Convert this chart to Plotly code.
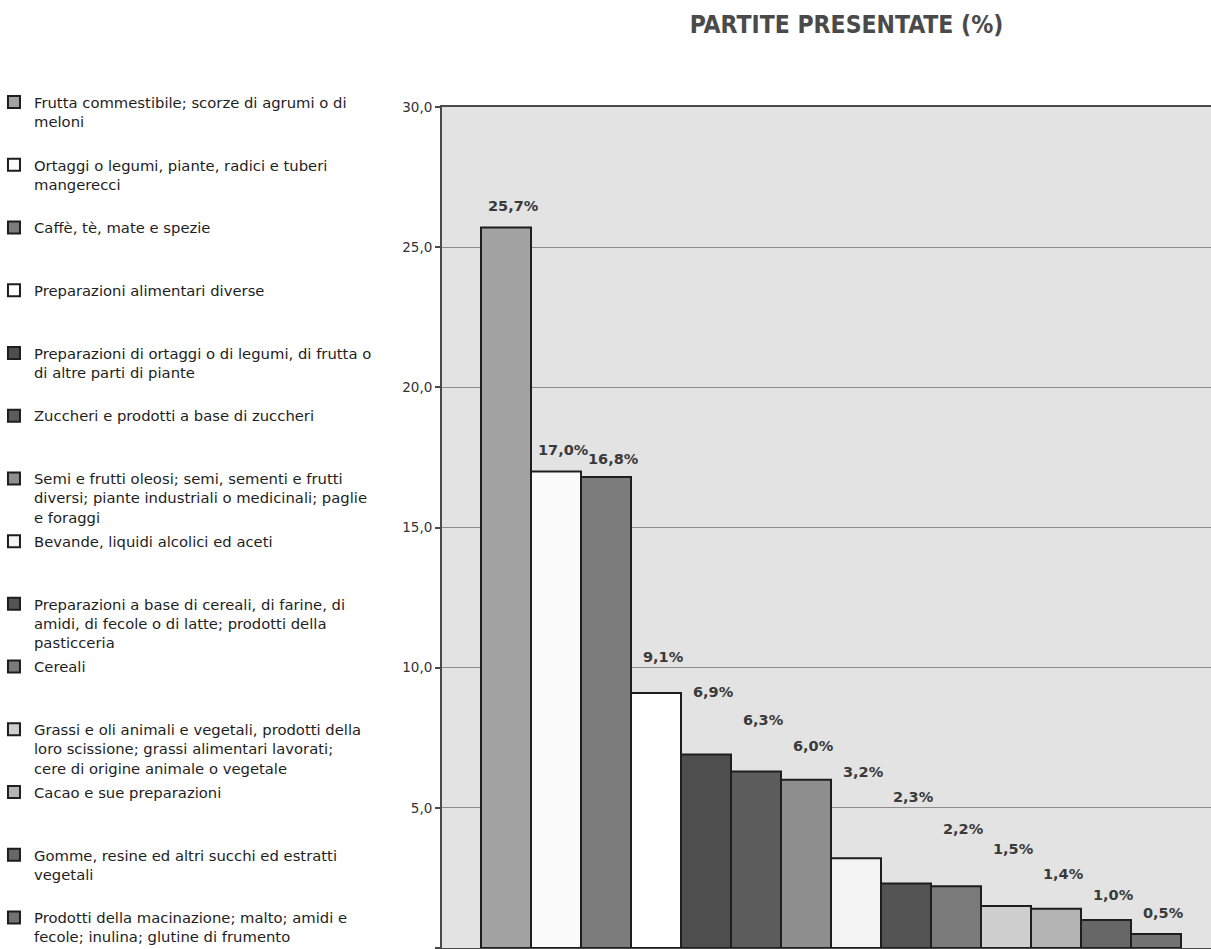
import plotly.graph_objects as go

# Categories (legend text, wrapped as printed) and their shares in percent
categories = [
    "Frutta commestibile; scorze di agrumi o di<br>meloni",
    "Ortaggi o legumi, piante, radici e tuberi<br>mangerecci",
    "Caffè, tè, mate e spezie",
    "Preparazioni alimentari diverse",
    "Preparazioni di ortaggi o di legumi, di frutta o<br>di altre parti di piante",
    "Zuccheri e prodotti a base di zuccheri",
    "Semi e frutti oleosi; semi, sementi e frutti<br>diversi; piante industriali o medicinali; paglie<br>e foraggi",
    "Bevande, liquidi alcolici ed aceti",
    "Preparazioni a base di cereali, di farine, di<br>amidi, di fecole o di latte; prodotti della<br>pasticceria",
    "Cereali",
    "Grassi e oli animali e vegetali, prodotti della<br>loro scissione; grassi alimentari lavorati;<br>cere di origine animale o vegetale",
    "Cacao e sue preparazioni",
    "Gomme, resine ed altri succhi ed estratti<br>vegetali",
    "Prodotti della macinazione; malto; amidi e<br>fecole; inulina; glutine di frumento",
]
shares = [25.7, 17.0, 16.8, 9.1, 6.9, 6.3, 6.0, 3.2, 2.3, 2.2, 1.5, 1.4, 1.0, 0.5]

# Fill shade of each bar
fills = ["#a3a3a3", "#fafafa", "#7c7c7c", "#ffffff", "#4e4e4e", "#5c5c5c", "#8e8e8e",
         "#f4f4f4", "#545454", "#7a7a7a", "#cfcfcf", "#b4b4b4", "#676767", "#727272"]

# Height (in axis units) at which each value label sits
label_heights = [26.46, 17.75, 17.43, 10.39, 9.14, 8.14, 7.21, 6.29, 5.39, 4.25,
                 3.54, 2.64, 1.89, 1.25]

y_ticks = [0, 5, 10, 15, 20, 25, 30]

fig = go.Figure()

for i, (name, val, col) in enumerate(zip(categories, shares, fills)):
    lines = name.count("<br>") + 1
    padded = name + "<br>&nbsp;" * (3 - lines)
    fig.add_trace(go.Bar(
        x=[i], y=[val], width=[1], name=padded,
        legendgroup=f"g{i}",
        marker=dict(color=col, line=dict(color="#1e1e1e", width=2)),
        hoverinfo="name+y",
    ))
    fig.add_annotation(
        x=i, y=label_heights[i], xref="x", yref="y",
        text=f"{val:.1f}".replace(".", ",") + "%",
        showarrow=False, xshift=7,
        font=dict(family="DejaVu Sans", size=14.5, color="#3a3a3a", weight="bold"),
    )

fig.update_layout(
    width=1211, height=949,
    margin=dict(l=442, r=0, t=107, b=1, autoexpand=False),
    paper_bgcolor="#ffffff",
    plot_bgcolor="#e3e3e3",
    barmode="overlay",
    separators=",.",
    title=dict(
        text="PARTITE PRESENTATE (%)",
        xref="container", x=0.699, xanchor="center",
        yref="container", y=0.974, yanchor="middle",
        font=dict(family="DejaVu Sans Condensed, DejaVu Sans", size=24.5,
                  color="#4a4a4a", weight="bold"),
    ),
    legend=dict(
        x=-0.5696, xanchor="left", y=1.025, yanchor="top",
        font=dict(family="DejaVu Sans", size=14.8, color="#1e1e1e"),
        valign="top", tracegroupgap=2, indentation=-10,
        maxheight=1000,
        bgcolor="rgba(0,0,0,0)",
    ),
    showlegend=True,
    xaxis=dict(
        range=[-1.28, 14.1], showticklabels=False, showgrid=False,
        zeroline=False, showline=True, linecolor="#4a4a4a", linewidth=1.5,
        mirror=True, ticks="",
    ),
    yaxis=dict(
        range=[0, 30], tickvals=y_ticks, tickformat=".1f",
        showgrid=True, gridcolor="#8c8c8c", gridwidth=1,
        zeroline=False, showline=True, linecolor="#4a4a4a", linewidth=2,
        ticks="outside", ticklen=5, tickcolor="#4a4a4a", tickwidth=1.5,
        tickfont=dict(family="DejaVu Sans", size=13.5, color="#333333"),
    ),
)

fig.write_html("out.html")
